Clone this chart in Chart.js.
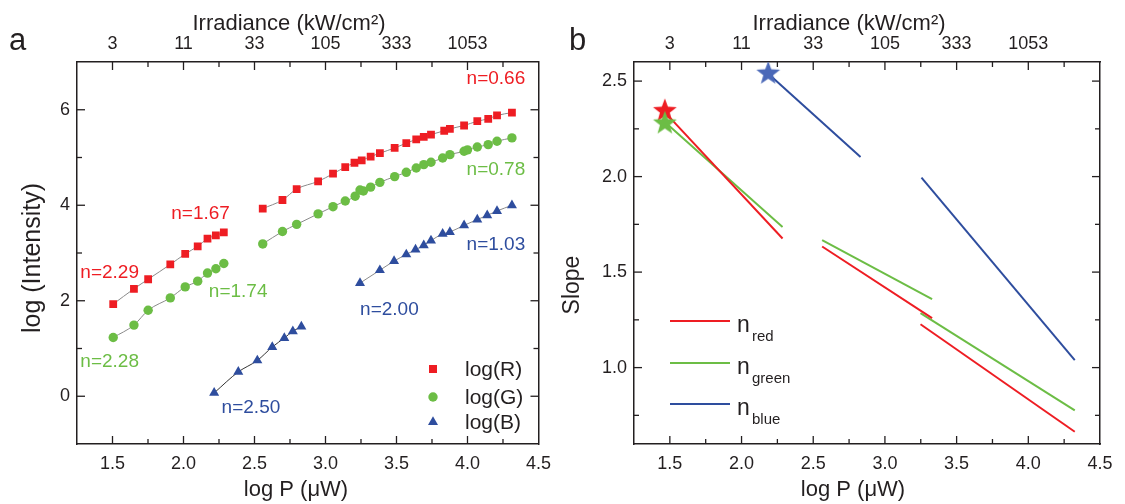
<!DOCTYPE html>
<html><head><meta charset="utf-8">
<script src="https://cdn.jsdelivr.net/npm/chart.js@4.4.1/dist/chart.umd.min.js"></script>
<style>
html,body{margin:0;padding:0;background:#fff;}
body{width:1125px;height:504px;overflow:hidden;position:relative;}
canvas{position:absolute;top:0;}
</style></head><body>
<canvas id="ca" width="560" height="504" style="left:0;width:560px;height:504px"></canvas>
<canvas id="cb" width="565" height="504" style="left:560px;width:565px;height:504px"></canvas>
<script>
// ---------- data (panel a) ----------
const redX1   = [1.505,1.651,1.751,1.907,2.012,2.100,2.169,2.228,2.284];
const redY1   = [1.93,2.25,2.45,2.76,2.98,3.14,3.30,3.37,3.43];
const greenX1 = [1.505,1.651,1.751,1.907,2.012,2.100,2.169,2.228,2.284];
const greenY1 = [1.23,1.49,1.80,2.06,2.29,2.41,2.58,2.67,2.78];
const blueX1  = [2.216,2.386,2.520,2.625,2.710,2.770,2.830];
const blueY1  = [0.07,0.51,0.75,1.03,1.22,1.36,1.46];
const redX2   = [2.558,2.697,2.797,2.948,3.053,3.139,3.204,3.255,3.318,3.383,3.487,3.569,3.639,3.692,3.743,3.836,3.876,3.976,4.069,4.146,4.208,4.313];
const redY2   = [3.93,4.11,4.34,4.50,4.66,4.80,4.89,4.94,5.02,5.09,5.20,5.30,5.38,5.43,5.48,5.56,5.60,5.67,5.76,5.81,5.88,5.94];
const greenX2 = [2.558,2.697,2.797,2.948,3.053,3.139,3.209,3.243,3.267,3.318,3.383,3.487,3.569,3.639,3.692,3.743,3.825,3.876,3.976,4.000,4.069,4.146,4.208,4.313];
const greenY2 = [3.19,3.45,3.60,3.82,3.97,4.09,4.19,4.32,4.30,4.38,4.48,4.60,4.69,4.78,4.85,4.90,4.99,5.06,5.13,5.16,5.22,5.27,5.34,5.41];
const blueX2  = [3.243,3.383,3.483,3.569,3.634,3.692,3.743,3.825,3.876,3.976,4.069,4.139,4.208,4.313];
const blueY2  = [2.37,2.64,2.83,2.97,3.07,3.16,3.26,3.40,3.44,3.58,3.70,3.79,3.88,4.00];
const slopeLabels = ['n=0.66','n=0.78','n=1.03','n=2.00','n=1.67','n=2.29','n=1.74','n=2.28','n=2.50'];
const legendA = ['log(R)','log(G)','log(B)'];
// ---------- data (panel b) ----------
const nRedX   = [[1.458,2.286],[2.562,3.329],[3.248,4.324]];
const nRedY   = [[2.343,1.676],[1.634,1.259],[1.227,0.664]];
const nGreenX = [[1.465,2.286],[2.562,3.329],[3.248,4.324]];
const nGreenY = [[2.286,1.736],[1.667,1.358],[1.285,0.776]];
const nBlueX  = [[2.179,2.830],[3.255,4.324]];
const nBlueY  = [[2.544,2.103],[1.995,1.039]];
const starX   = [1.465,1.465,2.186];
const starY   = [2.348,2.283,2.544];
const legendB = ['red','green','blue'];
// ---------- tick labels ----------
const bottomTickLabels = ['1.5','2.0','2.5','3.0','3.5','4.0','4.5'];
const topTickLabels = ['3','11','33','105','333','1053'];
const leftTickLabelsA = ['0','2','4','6'];
const leftTickLabelsB = ['1.0','1.5','2.0','2.5'];

const FONT = "'Liberation Sans', Arial, Helvetica, sans-serif";
const INK = '#231F20';
const RED = '#EE1D23', GREEN = '#6CBD45', BLUE = '#2E4D9E', BLUESTAR = '#4A68B8';
const FIT = '#8a8a8a';

const pts = (xs, ys) => xs.map((x, i) => ({x, y: ys[i]}));
const near = (v, m) => Math.abs(v / m - Math.round(v / m)) < 1e-6;

function bottomLabel(v){ const i = Math.round((v - 1.5) / 0.5); return near(v,0.5) && i>=0 && i<bottomTickLabels.length ? bottomTickLabels[i] : ''; }
function topLabel(v){ const i = Math.round((v - 1.5) / 0.5); return near(v,0.5) && i>=0 && i<topTickLabels.length ? topTickLabels[i] : ''; }

// inward tick marks (major + minor)
const innerTicks = {
  id: 'innerTicks',
  afterDatasetsDraw(chart, args, opts) {
    const ctx = chart.ctx, a = chart.chartArea;
    ctx.save(); ctx.strokeStyle = INK; ctx.lineWidth = 1.3;
    for (const id of ['x','x2','y','y2']) {
      const s = chart.scales[id]; if (!s) continue;
      const horiz = id[0] === 'x';
      s.ticks.forEach(t => {
        const v = t.value;
        const p = s.getPixelForValue(v);
        if (horiz && (p < a.left + 1 || p > a.right - 1)) return;
        if (!horiz && (p < a.top + 1 || p > a.bottom - 1)) return;
        const len = near(v, opts.major[horiz ? 'x' : 'y']) ? 8 : 5;
        ctx.beginPath();
        if (id === 'x') { ctx.moveTo(p, a.bottom); ctx.lineTo(p, a.bottom - len); }
        if (id === 'x2') { ctx.moveTo(p, a.top); ctx.lineTo(p, a.top + len); }
        if (id === 'y') { ctx.moveTo(a.left, p); ctx.lineTo(a.left + len, p); }
        if (id === 'y2') { ctx.moveTo(a.right, p); ctx.lineTo(a.right - len, p); }
        ctx.stroke();
      });
    }
    ctx.restore();
  }
};

const texts = {
  id: 'texts',
  afterDraw(chart, args, opts) {
    const ctx = chart.ctx;
    (opts.items || []).forEach(it => {
      let x = it.x, y = it.y;
      if (it.data) { x = chart.scales.x.getPixelForValue(it.x); y = chart.scales.y.getPixelForValue(it.y); }
      ctx.save();
      ctx.fillStyle = it.color || INK;
      ctx.font = (it.size || 18) + 'px ' + FONT;
      ctx.textAlign = it.align || 'center';
      ctx.textBaseline = it.baseline || 'middle';
      ctx.translate(x, y);
      if (it.rotate) ctx.rotate(it.rotate);
      ctx.fillText(it.text, 0, 0);
      ctx.restore();
    });
  }
};

const legendPluginA = {
  id: 'legendA',
  afterDraw(chart) {
    const ctx = chart.ctx;
    const rows = [{c: RED, s: 'rect', y: 369}, {c: GREEN, s: 'circle', y: 397}, {c: BLUE, s: 'triangle', y: 422}];
    rows.forEach((r, i) => {
      ctx.save(); ctx.fillStyle = r.c; ctx.beginPath();
      const x = 433;
      if (r.s === 'rect') ctx.rect(x - 4, r.y - 4, 8, 8);
      if (r.s === 'circle') ctx.arc(x, r.y, 4.7, 0, Math.PI * 2);
      if (r.s === 'triangle') { const R = 5.8; ctx.moveTo(x, r.y - R); ctx.lineTo(x + R * 0.866, r.y + R / 2); ctx.lineTo(x - R * 0.866, r.y + R / 2); ctx.closePath(); }
      ctx.fill();
      ctx.fillStyle = INK; ctx.font = '21px ' + FONT; ctx.textAlign = 'left'; ctx.textBaseline = 'middle';
      ctx.fillText(legendA[i], 465, r.y + 1);
      ctx.restore();
    });
  }
};

const legendPluginB = {
  id: 'legendB',
  afterDraw(chart) {
    const ctx = chart.ctx;
    const rows = [{c: RED, y: 321}, {c: GREEN, y: 363}, {c: BLUE, y: 404}];
    rows.forEach((r, i) => {
      ctx.save();
      ctx.strokeStyle = r.c; ctx.lineWidth = 2;
      ctx.beginPath(); ctx.moveTo(110, r.y); ctx.lineTo(170, r.y); ctx.stroke();
      ctx.fillStyle = INK; ctx.textAlign = 'left'; ctx.textBaseline = 'alphabetic';
      ctx.font = '23px ' + FONT; ctx.fillText('n', 177, r.y + 11);
      ctx.font = '15px ' + FONT; ctx.fillText(legendB[i], 192, r.y + 20);
      ctx.restore();
    });
  }
};

function makeStar(color) {
  const c = document.createElement('canvas'); c.width = 28; c.height = 28;
  const g = c.getContext('2d'); g.fillStyle = color; g.beginPath();
  for (let k = 0; k < 10; k++) {
    const r = k % 2 ? 5.2 : 12.5, ang = -Math.PI / 2 + k * Math.PI / 5;
    const px = 14 + r * Math.cos(ang), py = 14.8 + r * Math.sin(ang);
    k ? g.lineTo(px, py) : g.moveTo(px, py);
  }
  g.closePath(); g.fill(); return c;
}

function axisCommon(pos, size, labelFn, pad, min, max, step) {
  return {
    type: 'linear', position: pos, min, max,
    grid: {drawOnChartArea: false, drawTicks: false},
    border: {display: true, color: INK, width: 1.5},
    ticks: {autoSkip: false, maxRotation: 0, padding: pad, color: INK, font: {family: FONT, size: 18}, callback: labelFn},
    afterBuildTicks: s => {
      const arr = [];
      for (let k = Math.ceil(min / step - 1e-9); k * step <= max + 1e-9; k++) arr.push({value: +(k * step).toFixed(6)});
      s.ticks = arr;
    },
    afterFit: s => { if (pos === 'left' || pos === 'right') s.width = size; else s.height = size; }
  };
}

function scalesFor(ymin, ymax, ystep, yLabel, leftW, rightW) {
  const x = axisCommon('bottom', 60, v => bottomLabel(v), 9, 1.25, 4.5, 0.25);
  const x2 = axisCommon('top', 62, v => topLabel(v), 7, 1.25, 4.5, 0.25);
  x2.axis = 'x';
  const y = axisCommon('left', leftW, yLabel, 7, ymin, ymax, ystep);
  const y2 = axisCommon('right', rightW, () => '', 0, ymin, ymax, ystep);
  y2.axis = 'y';
  return {x, x2, y, y2};
}

function series(xs, ys, color, style, radius, lineColor) {
  return {
    data: pts(xs, ys), showLine: true, borderColor: lineColor, borderWidth: 1,
    cubicInterpolationMode: 'monotone',
    pointStyle: style, pointRadius: radius, pointBackgroundColor: color, pointBorderWidth: 0,
    pointHoverRadius: radius
  };
}

// ---------- chart a ----------
const labelPos = [[4.2,6.65,RED],[4.2,4.75,GREEN],[4.2,3.18,BLUE],[3.45,1.82,BLUE],[2.12,3.83,RED],[1.48,2.59,RED],[2.385,2.18,GREEN],[1.48,0.73,GREEN],[2.475,-0.25,BLUE]];
new Chart(document.getElementById('ca'), {
  type: 'scatter',
  data: {datasets: [
    series(redX1, redY1, RED, 'rect', 5.5, FIT),
    series(redX2, redY2, RED, 'rect', 5.5, FIT),
    series(greenX1, greenY1, GREEN, 'circle', 4.7, FIT),
    series(greenX2, greenY2, GREEN, 'circle', 4.7, FIT),
    series(blueX1, blueY1, BLUE, 'triangle', 5.8, '#333333'),
    series(blueX2, blueY2, BLUE, 'triangle', 5.8, FIT)
  ]},
  options: {
    responsive: false, animation: false, events: [],
    layout: {padding: 0},
    scales: scalesFor(-1, 7, 1, v => (near(v, 2) && v >= 0 && v <= 6) ? leftTickLabelsA[Math.round(v / 2)] : '', 77, 17),
    plugins: {
      legend: {display: false}, tooltip: {enabled: false},
      innerTicks: {major: {x: 0.5, y: 2}},
      texts: {items: [
        {text: 'a', x: 9, y: 50, size: 31, align: 'left', baseline: 'alphabetic'},
        {text: 'Irradiance (kW/cm²)', x: 289, y: 30, size: 22, baseline: 'alphabetic'},
        {text: 'log P (μW)', x: 296, y: 496, size: 22, baseline: 'alphabetic'},
        {text: 'log (Intensity)', x: 33, y: 258, size: 25, rotate: -Math.PI / 2}
      ].concat(slopeLabels.map((t, i) => ({text: t, data: true, x: labelPos[i][0], y: labelPos[i][1], color: labelPos[i][2], size: 19})))}
    }
  },
  plugins: [innerTicks, texts, legendPluginA]
});

// ---------- chart b ----------
const lineDs = (xs, ys, color) => xs.map((seg, i) => ({
  data: pts(seg, ys[i]), showLine: true, borderColor: color, borderWidth: 2, pointRadius: 0, pointHoverRadius: 0
}));
const stars = [makeStar(RED), makeStar(GREEN), makeStar(BLUESTAR)];
new Chart(document.getElementById('cb'), {
  type: 'scatter',
  data: {datasets: [
    {data: pts(starX, starY), pointStyle: stars, pointRadius: 12, pointHoverRadius: 12, showLine: false},
    ...lineDs(nRedX, nRedY, RED),
    ...lineDs(nGreenX, nGreenY, GREEN),
    ...lineDs(nBlueX, nBlueY, BLUE)
  ]},
  options: {
    responsive: false, animation: false, events: [],
    layout: {padding: 0},
    scales: scalesFor(0.6, 2.6, 0.25, v => {
      if (!near(v, 0.5) || v < 0.99) return '';
      return leftTickLabelsB[Math.round((v - 1) / 0.5)] || '';
    }, 74, 25),
    plugins: {
      legend: {display: false}, tooltip: {enabled: false},
      innerTicks: {major: {x: 0.5, y: 0.5}},
      texts: {items: [
        {text: 'b', x: 9, y: 50, size: 31, align: 'left', baseline: 'alphabetic'},
        {text: 'Irradiance (kW/cm²)', x: 289, y: 30, size: 22, baseline: 'alphabetic'},
        {text: 'log P (μW)', x: 293, y: 496, size: 22, baseline: 'alphabetic'},
        {text: 'Slope', x: 13, y: 285, size: 23, rotate: -Math.PI / 2}
      ]}
    }
  },
  plugins: [innerTicks, texts, legendPluginB]
});
</script>
</body></html>
